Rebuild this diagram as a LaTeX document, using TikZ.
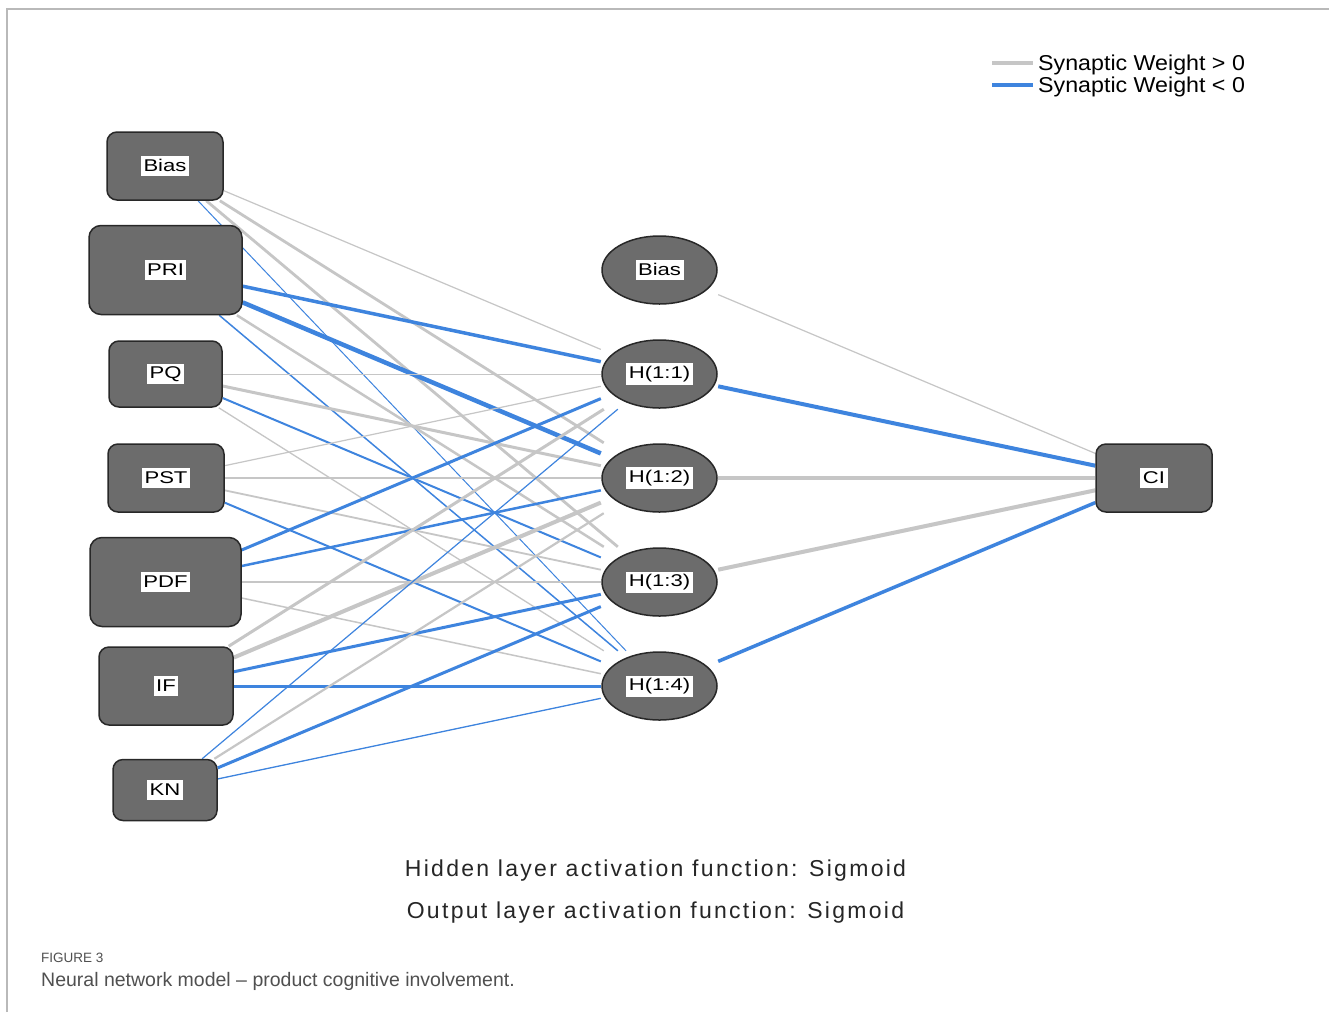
\documentclass[tikz,border=0pt]{standalone}
\usepackage{fontspec}
\setmainfont{Liberation Sans}
\newfontfamily\lblfont[FakeStretch=1.3]{Liberation Sans}
\newfontfamily\legfont[FakeStretch=1.08]{Liberation Sans}
\newfontfamily\actfont[LetterSpace=10]{Liberation Sans}

\definecolor{wpos}{RGB}{198,198,198}
\definecolor{wneg}{RGB}{62,132,222}
\definecolor{unitfill}{RGB}{108,108,108}
\definecolor{unitedge}{RGB}{40,40,40}
\definecolor{framegray}{RGB}{185,185,185}
\definecolor{captext}{RGB}{80,80,80}

% white tag holding a unit's name
\newcommand\unitlabel[1]{{\setlength{\fboxsep}{2.5pt}\colorbox{white}{\lblfont\fontsize{17}{17}\selectfont\rule[-2.5pt]{0pt}{15pt}#1}}}

\pgfdeclarelayer{paper}
\pgfdeclarelayer{edges}
\pgfsetlayers{paper,edges,main}

\tikzset{
  unit/.style={rectangle, draw=unitedge, line width=1.5pt, fill=unitfill,
    rounded corners=10pt, inner sep=0pt},
  hid/.style={rectangle, minimum width=117pt, minimum height=70pt, inner sep=0pt,
    path picture={\fill[unitfill, draw=unitedge, line width=1.5pt]
      (path picture bounding box.center) ellipse [x radius=57.5pt, y radius=34pt];}},
  wp/.style={draw=wpos, line width=#1},
  wn/.style={draw=wneg, line width=#1},
}

\begin{document}
\begin{tikzpicture}[x=1pt, y=-1pt]
\useasboundingbox (0,0) rectangle (1329,1012);
\begin{pgfonlayer}{paper}
\fill[white] (0,0) rectangle (1329,1012);
\draw[framegray, line width=1.5pt] (7,1012) -- (7,9) -- (1329,9);
\end{pgfonlayer}

% input layer
\node[unit, minimum width=116pt, minimum height=68pt] (ib)  at (165,166) {\unitlabel{Bias}};
\node[unit, minimum width=153pt, minimum height=89pt, rounded corners=12pt] (pri) at (165.5,270) {\unitlabel{PRI}};
\node[unit, minimum width=113pt, minimum height=66pt] (pq)  at (165.5,374) {\unitlabel{PQ}};
\node[unit, minimum width=116pt, minimum height=68pt] (pst) at (166,478) {\unitlabel{PST}};
\node[unit, minimum width=151pt, minimum height=89pt, rounded corners=12pt] (pdf) at (165.5,582) {\unitlabel{PDF}};
\node[unit, minimum width=134pt, minimum height=78pt] (inf) at (166,686) {\unitlabel{IF}};
\node[unit, minimum width=104pt, minimum height=61pt] (kn)  at (165,790) {\unitlabel{KN}};

% hidden layer
\node[hid] (hb) at (659.5,270) {\unitlabel{Bias}};
\node[hid] (h1) at (659.5,374) {\unitlabel{H(1:1)}};
\node[hid] (h2) at (659.5,478) {\unitlabel{H(1:2)}};
\node[hid] (h3) at (659.5,582) {\unitlabel{H(1:3)}};
\node[hid] (h4) at (659.5,686) {\unitlabel{H(1:4)}};

% output layer
\node[unit, minimum width=116pt, minimum height=68pt] (ci) at (1154,478) {\unitlabel{CI}};

\begin{pgfonlayer}{edges}
\draw[wp=1.2pt] (ib) -- (h1);
\draw[wp=2.8pt] (ib) -- (h2);
\draw[wp=2.8pt] (ib) -- (h3);
\draw[wn=1.0pt] (ib) -- (h4);
\draw[wn=3.5pt] (pri) -- (h1);
\draw[wn=4.5pt] (pri) -- (h2);
\draw[wp=2.5pt] (pri) -- (h3);
\draw[wn=1.5pt] (pri) -- (h4);
\draw[wp=1.0pt] (pq) -- (h1);
\draw[wp=3.0pt] (pq) -- (h2);
\draw[wn=2.0pt] (pq) -- (h3);
\draw[wp=1.3pt] (pq) -- (h4);
\draw[wp=1.2pt] (pst) -- (h1);
\draw[wp=2.8pt] (pst) -- (h2);
\draw[wp=1.8pt] (pst) -- (h3);
\draw[wn=2.0pt] (pst) -- (h4);
\draw[wn=3.0pt] (pdf) -- (h1);
\draw[wn=2.5pt] (pdf) -- (h2);
\draw[wp=2.5pt] (pdf) -- (h3);
\draw[wp=1.5pt] (pdf) -- (h4);
\draw[wp=3.0pt] (inf) -- (h1);
\draw[wp=4.0pt] (inf) -- (h2);
\draw[wn=3.0pt] (inf) -- (h3);
\draw[wn=3.0pt] (inf) -- (h4);
\draw[wn=1.2pt] (kn) -- (h1);
\draw[wp=2.2pt] (kn) -- (h2);
\draw[wn=3.0pt] (kn) -- (h3);
\draw[wn=1.3pt] (kn) -- (h4);
% hidden to output
\draw[wp=1.2pt] (hb) -- (ci);
\draw[wn=4.0pt] (h1) -- (ci);
\draw[wp=4.0pt] (h2) -- (ci);
\draw[wp=4.0pt] (h3) -- (ci);
\draw[wn=3.5pt] (h4) -- (ci);
\end{pgfonlayer}

% legend
\node[anchor=base west, inner sep=0pt] (legp) at (1038,70.5)
  {\legfont\fontsize{21.5}{21.5}\selectfont Synaptic Weight > 0};
\node[anchor=base west, inner sep=0pt] (legn) at (1038,92.5)
  {\legfont\fontsize{21.5}{21.5}\selectfont Synaptic Weight < 0};
\draw[wp=4pt] ([xshift=-46pt, yshift=8pt]legp.base west) -- ([xshift=-5pt, yshift=8pt]legp.base west);
\draw[wn=4pt] ([xshift=-46pt, yshift=8pt]legn.base west) -- ([xshift=-5pt, yshift=8pt]legn.base west);

% activation notes
\node[anchor=base, inner sep=0pt, text=black!85] (acth) at (655.5,876)
  {\actfont\fontsize{23}{23}\selectfont Hidden layer activation function: Sigmoid};
\node[anchor=base, inner sep=0pt, text=black!85] (acto) at (655.5,918)
  {\actfont\fontsize{23}{23}\selectfont Output layer activation function: Sigmoid};

% caption
\node[anchor=base west, inner sep=0pt, text=captext] (fig) at (41,962)
  {\fontsize{13.5}{13.5}\selectfont FIGURE 3};
\node[anchor=base west, inner sep=0pt, text=captext] (cap) at (41,986)
  {\fontsize{19.5}{19.5}\selectfont Neural network model -- product cognitive involvement.};
\end{tikzpicture}
\end{document}
